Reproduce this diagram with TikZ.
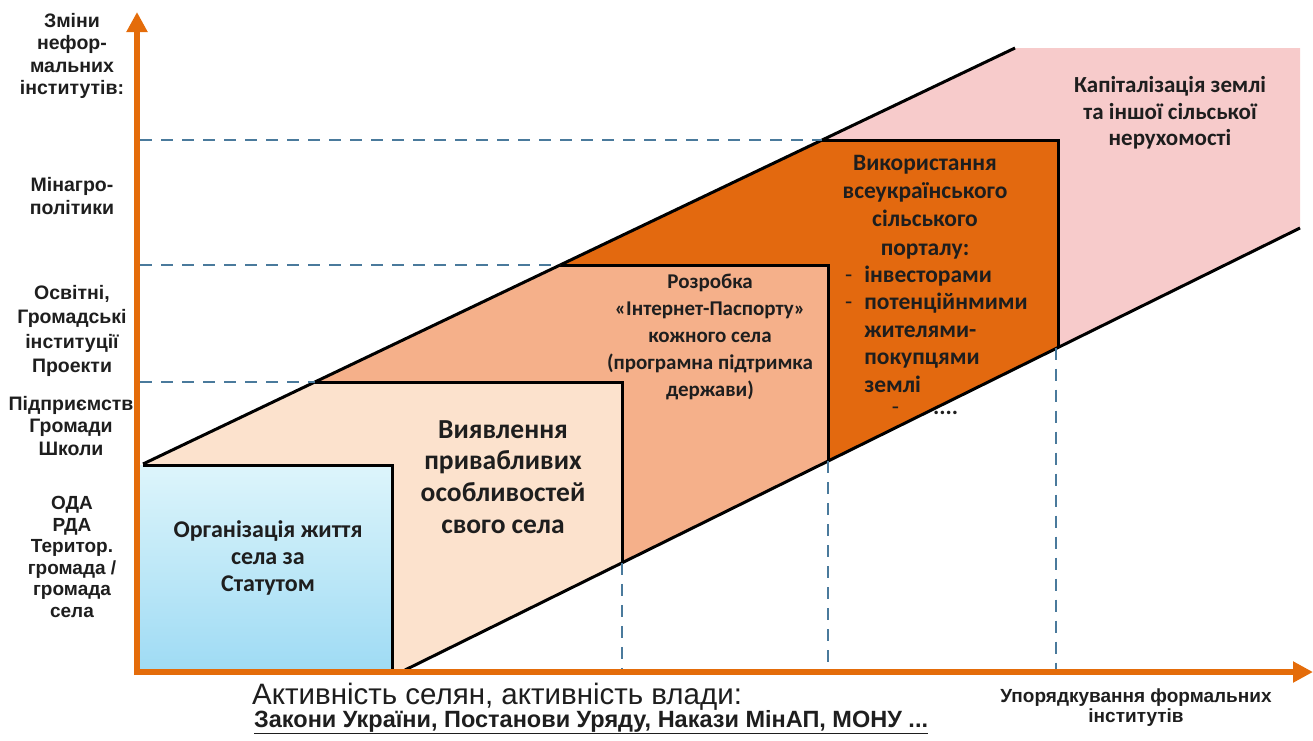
\documentclass[tikz,border=0pt]{standalone}
\usepackage{fontspec}
\setmainfont{Liberation Sans}
\newfontfamily\calfont{Carlito}
\usetikzlibrary{arrows.meta}

\definecolor{axisorange}{HTML}{E46C0A}
\definecolor{stepdark}{HTML}{E3690F}
\definecolor{stepmid}{HTML}{F5B08A}
\definecolor{steplight}{HTML}{FCE2CD}
\definecolor{bandpink}{HTML}{F7CBCB}
\definecolor{guideblue}{HTML}{4A7A9C}
\definecolor{inktext}{HTML}{1E1E1E}
\definecolor{skytop}{HTML}{DDF5FB}
\definecolor{skybottom}{HTML}{9FDBF4}

\tikzset{
	axis/.style={line width=6pt, color=axisorange, -{Triangle[width=20pt,length=20pt]}},
	edge/.style={line width=3pt, color=black},
	guide/.style={line width=2pt, color=guideblue, dash pattern=on 12pt off 9pt},
	sidelabel/.style={font=\bfseries\fontsize{19.5}{22.5}\selectfont, align=center, inner sep=0pt, text=inktext},
	steptext/.style={font=\calfont\bfseries\fontsize{23.5}{28.3}\selectfont, align=center, inner sep=0pt, text=inktext},
}

\begin{document}
\begin{tikzpicture}[x=1pt, y=-1pt]
			%%%%% FRAME %%%%%
			\useasboundingbox (0, 0) rectangle (1313, 740);
			
			%%%%% BAND AND STEPS %%%%%
			\fill[bandpink] (143, 464) -- (1015, 48) -- (1300, 48) -- (1300, 228) -- (405, 670) -- (143, 670) -- cycle;
			\fill[stepdark] (143, 464) -- (822, 140) -- (1058, 140) -- (1058, 347.5) -- (405, 670) -- (143, 670) -- cycle;
			\fill[stepmid] (143, 464) -- (560, 265) -- (828, 265) -- (828, 461) -- (405, 670) -- (143, 670) -- cycle;
			\fill[steplight] (143, 464) -- (315, 382) -- (622, 382) -- (622, 562.8) -- (405, 670) -- (143, 670) -- cycle;
			\shade[top color=skytop, bottom color=skybottom] (140, 465) rectangle (392, 670);
			
			%%%%% OUTLINES %%%%%
			\draw[edge] (143, 464) -- (1015, 48);
			\draw[edge] (405, 670) -- (1300, 228);
			\draw[edge] (143, 465) -- (392, 465) -- (392, 670);
			\draw[edge] (315, 382) -- (622, 382) -- (622, 562.8);
			\draw[edge] (560, 265) -- (828, 265) -- (828, 461);
			\draw[edge] (822, 140) -- (1058, 140) -- (1058, 347.5);
			
			%%%%% GUIDES %%%%%
			\draw[guide] (140, 140) -- (822, 140);
			\draw[guide] (140, 265) -- (560, 265);
			\draw[guide] (140, 382) -- (315, 382);
			\draw[guide] (622, 562.8) -- (622, 670);
			\draw[guide] (828, 461) -- (828, 670);
			\draw[guide] (1056, 347.5) -- (1056, 670);
			
			%%%%% AXES %%%%%
			\draw[axis] (137, 675) -- (137, 12);
			\draw[axis] (134, 672) -- (1313, 672);
			
			%%%%% SIDE LABELS %%%%%
			\node[sidelabel] (infLabel) at (72, 56) {Зміни\\нефор-\\мальних\\інститутів:};
			\node[sidelabel] (minLabel) at (72, 196) {Мінагро-\\політики};
			\node[sidelabel, font=\bfseries\fontsize{19.5}{24.5}\selectfont] (osvLabel) at (72, 331) {Освітні,\\Громадські\\інституції\\Проекти};
			\node[sidelabel] (pidLabel) at (71, 426) {Підприємств\\Громади\\Школи};
			\node[sidelabel, font=\bfseries\fontsize{19}{21.6}\selectfont] (odaLabel) at (72, 557) {ОДА\\РДА\\Територ.\\громада /\\громада\\села};
			
			%%%%% STEP TEXTS %%%%%
			\node[steptext, font=\calfont\bfseries\fontsize{24}{27}\selectfont] (orgText) at (268, 558) {Організація життя\\села за\\Статутом};
			\node[steptext, font=\calfont\bfseries\fontsize{27.5}{31.7}\selectfont] (vyyText) at (503, 477) {Виявлення\\привабливих\\особливостей\\свого села};
			\node[steptext, font=\calfont\bfseries\fontsize{21}{27.2}\selectfont] (rozText) at (710, 337) {Розробка\\«Інтернет-Паспорту»\\кожного села\\(програмна підтримка\\держави)};
			\node[steptext] (vykText) at (925, 207) {Використання\\всеукраїнського\\сільського\\порталу:};
			\node[steptext, anchor=north west, font=\calfont\bfseries\fontsize{23.5}{27.5}\selectfont] (vykList) at (845, 263)
				{\begin{tabular}{@{}l@{\hspace{12pt}}l@{}}
					{\mdseries -} & інвесторами\\
					{\mdseries -} & потенційнмими\\
					 & жителями-\\
					 & покупцями\\
					 & землі
				\end{tabular}};
			\node[steptext] (vykDots) at (925, 411) {{\mdseries -}\hspace{34pt}....};
			\node[steptext, font=\calfont\bfseries\fontsize{23}{26.5}\selectfont] (kapText) at (1170, 113) {Капіталізація землі\\та іншої сільської\\нерухомості};
			
			%%%%% AXIS TEXTS %%%%%
			\node[anchor=west, inner sep=0pt, text=inktext, font=\fontsize{29.5}{32}\selectfont] (aktText) at (252, 697) {Активність селян, активність влади:};
			\node[anchor=west, inner sep=0pt, text=inktext, font=\bfseries\fontsize{23.5}{26}\selectfont] (zakText) at (254, 722) {\underline{Закони України, Постанови Уряду, Накази МінАП, МОНУ ...}};
			\node[inner sep=0pt, align=center, text=inktext, font=\bfseries\fontsize{19}{20}\selectfont] (upoText) at (1136, 708) {Упорядкування формальних\\інститутів};
			
			%%%%% END %%%%%
		\end{tikzpicture}
\end{document}
